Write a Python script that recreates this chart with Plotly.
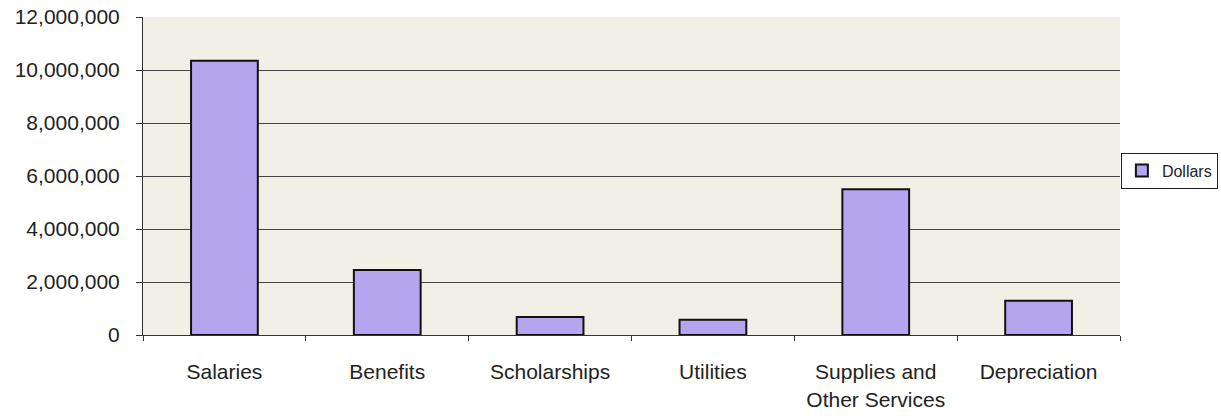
import plotly.graph_objects as go

categories = ["Salaries", "Benefits", "Scholarships", "Utilities",
              "Supplies and<br>Other Services", "Depreciation"]
dollars = [10350000, 2450000, 680000, 580000, 5500000, 1290000]
y_ticks = [0, 2000000, 4000000, 6000000, 8000000, 10000000, 12000000]
y_tick_labels = ["0", "2,000,000", "4,000,000", "6,000,000", "8,000,000",
                 "10,000,000", "12,000,000"]

fig = go.Figure()
fig.add_trace(go.Bar(
    x=categories, y=dollars, name="Dollars",
    marker=dict(color="#b4a6ee", line=dict(color="#111111", width=2)),
))

fig.update_layout(
    width=1221, height=416,
    margin=dict(l=143, r=101, t=17, b=81),
    paper_bgcolor="white",
    plot_bgcolor="#f1f0e6",
    bargap=0.59,
    font=dict(family="Liberation Sans, Arial, sans-serif", size=21, color="#222222"),
    showlegend=True,
    legend=dict(
        xref="container", yref="container",
        x=0.918, xanchor="left", y=0.59, yanchor="middle",
        bordercolor="#222222", borderwidth=1, bgcolor="white",
        font=dict(size=16), itemwidth=30,
    ),
    xaxis=dict(
        automargin=False,
        showline=True, linecolor="#333333", linewidth=1,
        ticks="outside", tickson="boundaries", ticklen=5, tickcolor="#333333",
        ticklabelstandoff=18,
        showgrid=False, mirror=False,
    ),
    yaxis=dict(
        automargin=False,
        range=[0, 12000000],
        tickvals=y_ticks, ticktext=y_tick_labels,
        showline=True, linecolor="#333333", linewidth=1,
        ticks="outside", ticklen=6, tickcolor="#333333",
        ticklabelstandoff=12,
        showgrid=True, gridcolor="#444444", gridwidth=1,
        zeroline=False,
    ),
)

fig.write_html(
    "out.html",
    config={"displayModeBar": False},
    post_script="document.body.style.margin='0';document.body.style.overflow='hidden';",
)
